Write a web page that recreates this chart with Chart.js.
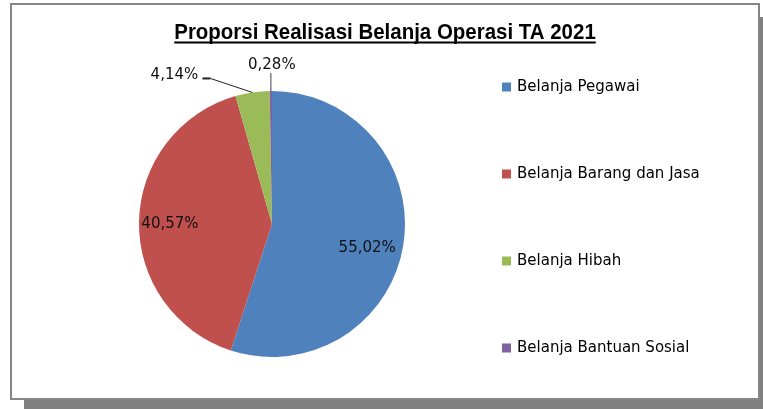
<!DOCTYPE html>
<html lang="id">
  <head>
    <meta charset="UTF-8" />
    <title>Proporsi Realisasi Belanja Operasi TA 2021</title>
    <script src="https://cdn.jsdelivr.net/npm/chart.js"></script>
    <style>
      body { margin: 0; background: #fff; }
      #frame {
        position: absolute;
        left: 10px;
        top: 3px;
        width: 746px;
        height: 393px;
        border: 2px solid #868686;
        background: #fff;
        box-shadow: 14px 14px 0 #808080;
      }
    </style>
  </head>
  <body>
    <div id="frame">
      <canvas id="myChart" width="746" height="393"></canvas>
    </div>

    <script>
      // data
      const categories = [
        "Belanja Pegawai",
        "Belanja Barang dan Jasa",
        "Belanja Hibah",
        "Belanja Bantuan Sosial"
      ];
      const shares = [55.02, 40.57, 4.14, 0.28];
      const sliceColors = ["#4F81BD", "#C0504D", "#9BBB59", "#8064A2"];
      const chartTitle = "Proporsi Realisasi Belanja Operasi TA 2021";

      // where each percentage label sits (inside slice or pulled out with a leader line)
      const labelPlacement = [
        { inside: 0.74, dx: -2, dy: 9 },
        { inside: 0.76, dx: -1, dy: 2 },
        { text: [-78, -17], elbow: [-42, -14], stub: 8 },
        { text: [1, -26], lineTo: [0, -18] }
      ];

      function fmt(v) {
        return v.toFixed(2).replace(".", ",") + "%";
      }

      // percentage labels
      const pieLabels = {
        id: "pieLabels",
        afterDatasetsDraw(chart) {
          const ctx = chart.ctx;
          const arcs = chart.getDatasetMeta(0).data;
          ctx.save();
          ctx.font = "15px 'DejaVu Sans'";
          ctx.fillStyle = "#111";
          ctx.textAlign = "center";
          ctx.textBaseline = "middle";
          arcs.forEach((arc, i) => {
            const p = arc.getProps(["x", "y", "startAngle", "endAngle", "outerRadius"]);
            const mid = (p.startAngle + p.endAngle) / 2;
            const cfg = labelPlacement[i];
            const txt = fmt(chart.data.datasets[0].data[i]);
            if (cfg.inside) {
              const r = p.outerRadius * cfg.inside;
              ctx.fillText(txt, p.x + Math.cos(mid) * r + cfg.dx, p.y + Math.sin(mid) * r + cfg.dy);
              return;
            }
            const ex = p.x + Math.cos(mid) * p.outerRadius;
            const ey = p.y + Math.sin(mid) * p.outerRadius;
            if (cfg.elbow) {
              const bx = ex + cfg.elbow[0];
              const by = ey + cfg.elbow[1];
              ctx.strokeStyle = "#222";
              ctx.lineWidth = 1;
              ctx.beginPath();
              ctx.moveTo(ex, ey);
              ctx.lineTo(bx, by);
              ctx.stroke();
              ctx.lineWidth = 2;
              ctx.beginPath();
              ctx.moveTo(bx, by);
              ctx.lineTo(bx - cfg.stub, by);
              ctx.stroke();
            }
            if (cfg.lineTo) {
              ctx.strokeStyle = "#7f7f7f";
              ctx.lineWidth = 1.5;
              ctx.beginPath();
              ctx.moveTo(ex, ey);
              ctx.lineTo(ex + cfg.lineTo[0], ey + cfg.lineTo[1]);
              ctx.stroke();
            }
            ctx.fillText(txt, ex + cfg.text[0], ey + cfg.text[1]);
          });
          ctx.restore();
        }
      };

      // underlined title over the whole box + spaced out legend like the excel one
      const extras = {
        id: "extras",
        afterDraw(chart) {
          const ctx = chart.ctx;
          const cx = chart.width / 2;
          ctx.save();
          ctx.font = "bold 22px 'Liberation Sans', sans-serif";
          ctx.fillStyle = "#000";
          ctx.textAlign = "center";
          ctx.textBaseline = "middle";
          const w = ctx.measureText(chartTitle).width * 0.93;
          ctx.save();
          ctx.translate(cx, 28);
          ctx.scale(0.93, 1);
          ctx.fillText(chartTitle, 0, 0);
          ctx.restore();
          ctx.strokeStyle = "#000";
          ctx.lineWidth = 2;
          ctx.beginPath();
          ctx.moveTo(cx - w / 2, 37.5);
          ctx.lineTo(cx + w / 2, 37.5);
          ctx.stroke();

          ctx.font = "15px 'DejaVu Sans'";
          ctx.textAlign = "left";
          chart.data.labels.forEach((lab, i) => {
            const y = 82 + i * 87;
            ctx.fillStyle = chart.data.datasets[0].backgroundColor[i];
            ctx.fillRect(490, y - 4.5, 9, 9);
            ctx.fillStyle = "#000";
            ctx.fillText(lab, 505, y);
          });
          ctx.restore();
        }
      };

      const data = {
        labels: categories,
        datasets: [
          {
            data: shares,
            backgroundColor: sliceColors,
            borderWidth: 0
          }
        ]
      };

      const config = {
        type: "pie",
        data: data,
        options: {
          responsive: false,
          animation: false,
          layout: {
            padding: { left: 0, right: 226, top: 86, bottom: 41 }
          },
          plugins: {
            legend: { display: false },
            tooltip: { enabled: false },
            title: { display: false }
          }
        },
        plugins: [pieLabels, extras]
      };

      const myChart = new Chart(document.getElementById("myChart"), config);
    </script>
  </body>
</html>
